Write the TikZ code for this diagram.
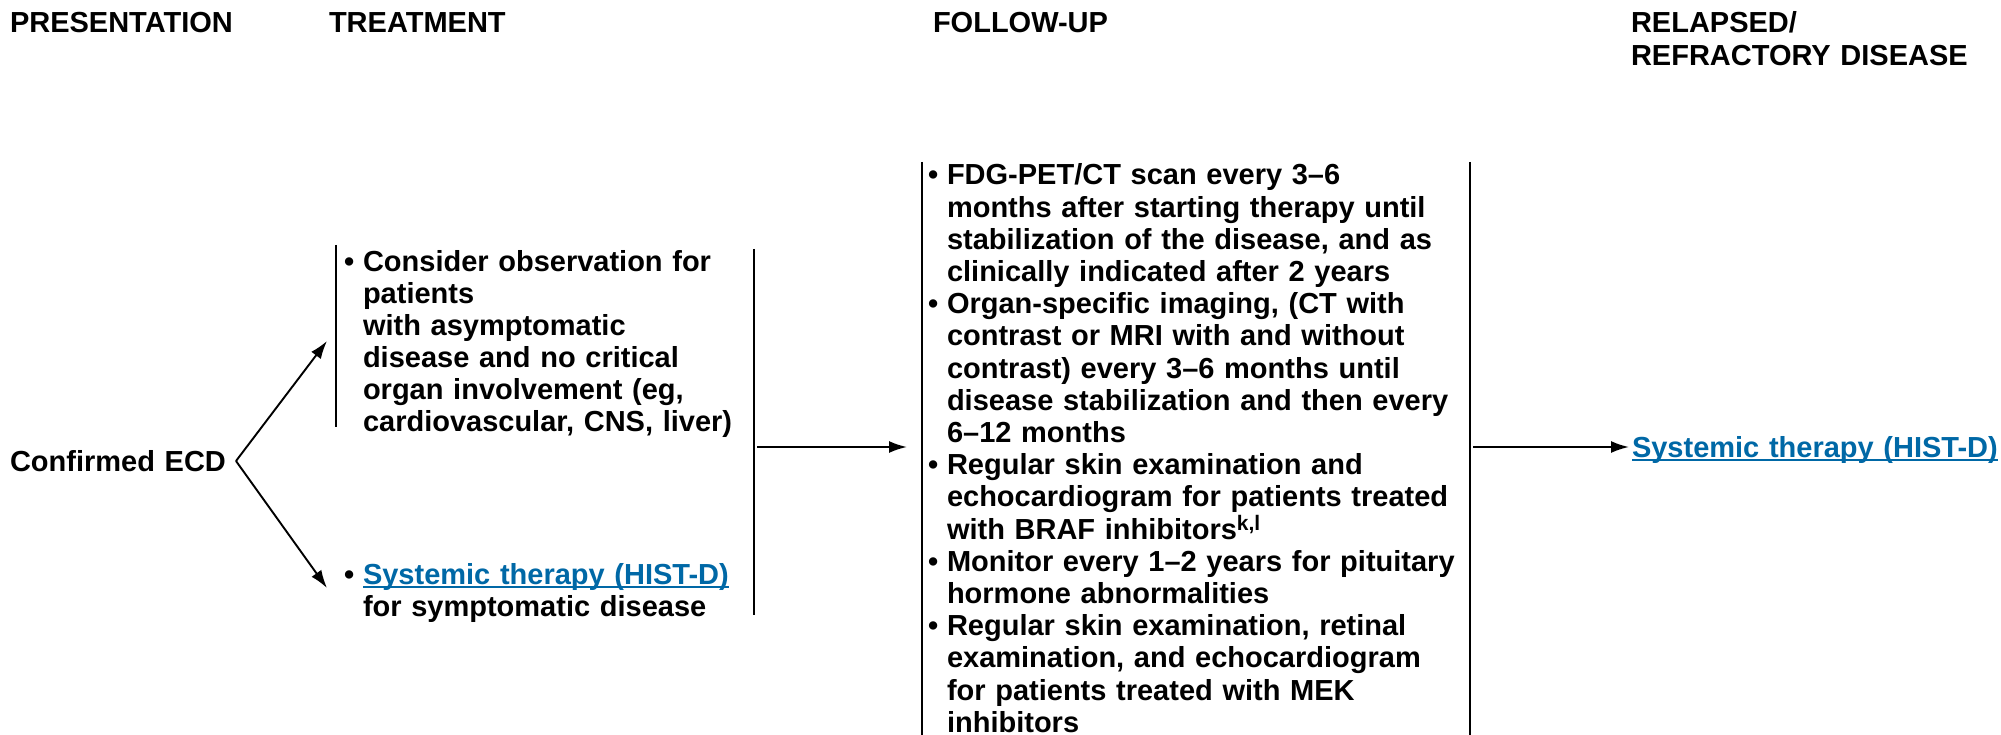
\documentclass[tikz,border=0pt]{standalone}
\usepackage{fontspec}
\setmainfont{Liberation Sans}
\usetikzlibrary{arrows.meta}
\definecolor{linkblue}{RGB}{0,104,166}
\newcommand{\ulink}[1]{{\color{linkblue}\setbox0\hbox{#1}\rlap{\rule[-3.5pt]{\wd0}{1.6pt}}\box0}}
\newcommand{\bl}{\makebox[19pt][l]{\raisebox{0pt}{•}}}
\newcommand{\ind}{\hspace*{19pt}}
\tikzset{
  txt/.style={inner sep=0pt, outer sep=0pt, align=left, text width=700pt,
    font=\fontsize{29}{32.2}\selectfont\bfseries},
  vline/.style={line width=2.2pt},
  arr/.style={line width=2pt, -{Latex[length=18pt,width=12pt]}},
  conn/.style={line width=1.9pt, -{Latex[length=18pt,width=12pt]}}
}
\begin{document}
\begin{tikzpicture}[x=1pt,y=-1pt]
\useasboundingbox (0,0) rectangle (2001,735);
% headers
\node[txt, anchor=base west] (h1) at (10,33) {PRESENTATION};
\node[txt, anchor=base west] (h2) at (329,33) {TREATMENT};
\node[txt, anchor=base west] (h3) at (933,33) {FOLLOW-UP};
\node[txt, anchor=base west, font=\fontsize{29}{33}\selectfont\bfseries] (h4) at (1631,33) {RELAPSED/\\REFRACTORY DISEASE};
% presentation
\node[txt, anchor=base west] (ecd) at (10,471) {Confirmed ECD};
\coordinate (br) at (236,461);
\coordinate (a1) at (327,341);
\coordinate (a2) at (327,588);
\draw[conn] (br) -- (a1);
\draw[conn] (br) -- (a2);
% treatment
\node[txt, anchor=base west] (obs) at (344,271) {\bl Consider observation for\par
\ind patients\par
\ind with asymptomatic\par
\ind disease and no critical\par
\ind organ involvement (eg,\par
\ind cardiovascular, CNS, liver)};
\node[txt, anchor=base west] (sys1) at (344,584) {\bl\ulink{Systemic therapy (HIST-D)}\par
\ind for symptomatic disease};
\coordinate (l1t) at (336,245);
\coordinate (l1b) at (336,427);
\draw[vline] (l1t) -- (l1b);
\coordinate (r1t) at (754,249);
\coordinate (r1b) at (754,615);
\draw[vline] (r1t) -- (r1b);
\coordinate (t1s) at (757,447);
\coordinate (t1e) at (907,447);
\draw[arr] (t1s) -- (t1e);
% follow-up
\coordinate (l2t) at (922,162);
\coordinate (l2b) at (922,740);
\draw[vline] (l2t) -- (l2b);
\coordinate (r2t) at (1470,162);
\coordinate (r2b) at (1470,740);
\draw[vline] (r2t) -- (r2b);
\node[txt, anchor=base west] (fu) at (928,185) {\bl FDG-PET/CT scan every 3–6\par
\ind months after starting therapy until\par
\ind stabilization of the disease, and as\par
\ind clinically indicated after 2 years\par
\bl Organ-specific imaging, (CT with\par
\ind contrast or MRI with and without\par
\ind contrast) every 3–6 months until\par
\ind disease stabilization and then every\par
\ind 6–12 months\par
\bl Regular skin examination and\par
\ind echocardiogram for patients treated\par
\ind with BRAF inhibitors\textsuperscript{\fontsize{21}{21}\selectfont k,l}\par
\bl Monitor every 1–2 years for pituitary\par
\ind hormone abnormalities\par
\bl Regular skin examination, retinal\par
\ind examination, and echocardiogram\par
\ind for patients treated with MEK\par
\ind inhibitors};
% relapsed
\coordinate (t2s) at (1473,447);
\coordinate (t2e) at (1629,447);
\draw[arr] (t2s) -- (t2e);
\node[txt, anchor=base west] (sys2) at (1632,457) {\ulink{Systemic therapy (HIST-D)}};
\end{tikzpicture}
\end{document}
